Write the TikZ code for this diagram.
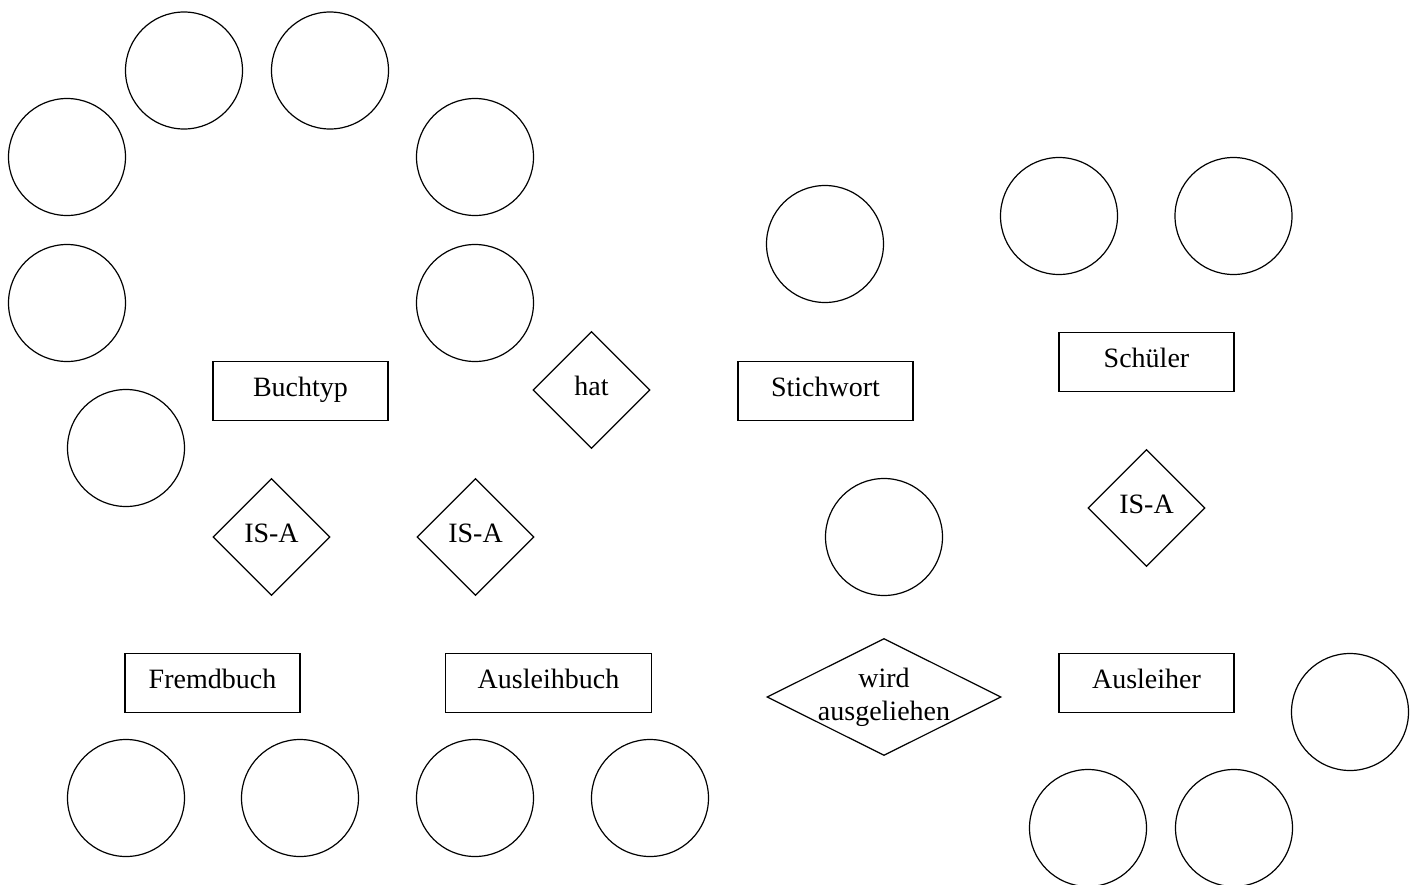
\documentclass[tikz,border=0pt]{standalone}
\usepackage{fontspec}
\setmainfont{Liberation Serif}
\usetikzlibrary{shapes.geometric}

\begin{document}
\begin{tikzpicture}[x=0.5pt, y=-0.5pt, line width=0.6pt,
    font=\fontsize{14}{16.5}\selectfont,
    entity/.style={draw, rectangle, inner sep=0pt, minimum width=87.5pt, minimum height=29.25pt, text height=8pt, text depth=3pt},
    attr/.style={draw, circle, inner sep=0pt, minimum size=58.5pt},
    relation/.style={draw, diamond, inner sep=0pt, minimum width=58.5pt, minimum height=58.5pt, text height=8pt, text depth=3pt}]
      \useasboundingbox (0,0) rectangle (1419,884);

      \node[attr] (attr1) at (184, 70.5) {};
      \node[attr] (attr2) at (330, 70.5) {};
      \node[attr] (attr3) at (67, 157) {};
      \node[attr] (attr4) at (475, 157) {};
      \node[attr] (attr5) at (67, 303) {};
      \node[attr] (attr6) at (475, 303) {};
      \node[attr] (attr7) at (126, 448) {};
      \node[attr] (attr8) at (825, 244) {};
      \node[attr] (attr9) at (1059, 216) {};
      \node[attr] (attr10) at (1233.5, 216) {};
      \node[attr] (attr11) at (884, 537) {};
      \node[attr] (attr12) at (1350, 712) {};
      \node[attr] (attr13) at (126, 798) {};
      \node[attr] (attr14) at (300, 798) {};
      \node[attr] (attr15) at (475, 798) {};
      \node[attr] (attr16) at (650, 798) {};
      \node[attr] (attr17) at (1088, 828) {};
      \node[attr] (attr18) at (1234, 828) {};

      \node[entity] (buchtyp) at (300.5, 391) {Buchtyp};
      \node[entity] (stichwort) at (825.5, 391) {Stichwort};
      \node[entity] (schueler) at (1146.5, 362) {Schüler};
      \node[entity] (fremdbuch) at (212.5, 683) {Fremdbuch};
      \node[entity, minimum width=103pt] (ausleihbuch) at (548.5, 683) {Ausleihbuch};
      \node[entity] (ausleiher) at (1146.5, 683) {Ausleiher};

      \node[relation] (hat) at (591.5, 390) {hat};
      \node[relation] (isa1) at (271.5, 537) {IS-A};
      \node[relation] (isa2) at (475.5, 537) {IS-A};
      \node[relation] (isa3) at (1146.5, 508) {IS-A};
      \node[relation, minimum width=117pt, minimum height=58.5pt,
        label={[align=center, inner sep=0pt]center:wird\\ausgeliehen}] (wird) at (884, 697) {};
    \end{tikzpicture}
\end{document}
